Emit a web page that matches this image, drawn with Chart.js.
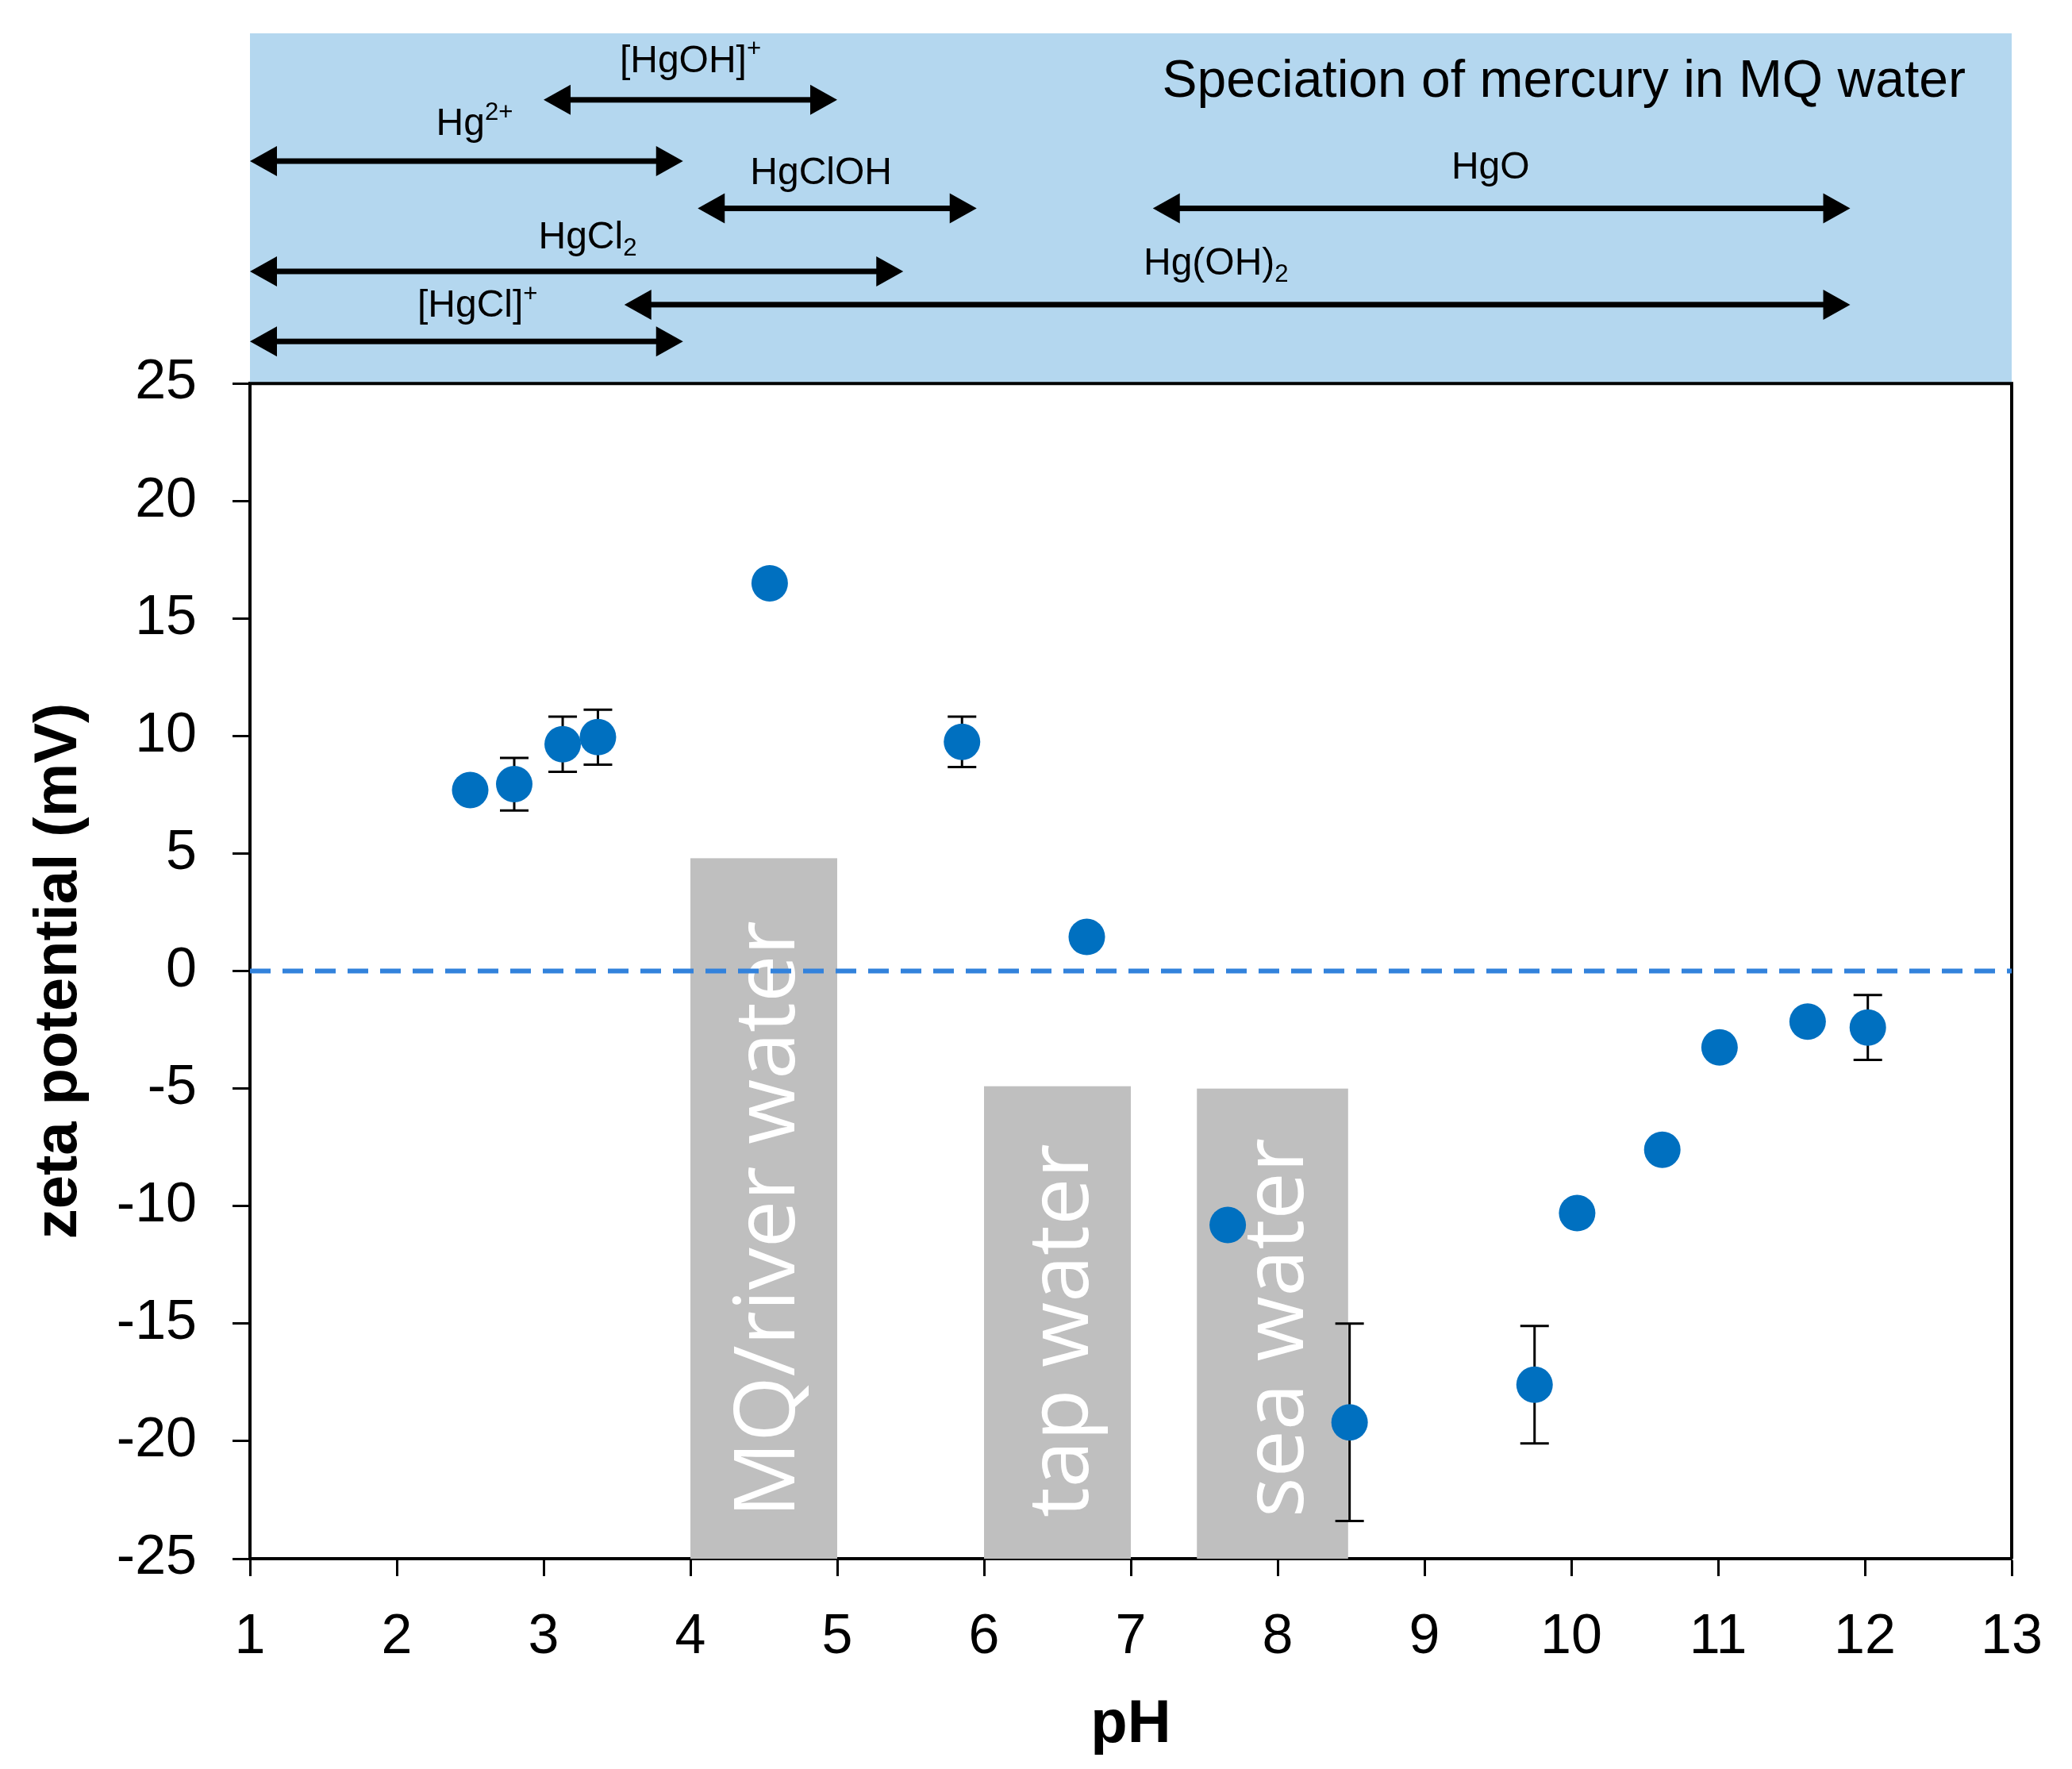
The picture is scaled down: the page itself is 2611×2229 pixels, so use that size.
<!DOCTYPE html>
<html><head><meta charset="utf-8">
<script src="https://cdn.jsdelivr.net/npm/chart.js@4.4.1/dist/chart.umd.min.js"></script>
<style>html,body{margin:0;padding:0;background:#fff;}#wrap{width:2611px;height:2229px;position:relative;}</style>
</head><body><div id="wrap"><canvas id="c"></canvas></div>
<script>
// ---- data ----
const phValues   = [2.50, 2.80, 3.13, 3.37, 4.54, 5.85, 6.70, 7.66, 8.49, 9.75, 10.04, 10.62, 11.01, 11.61, 12.02];
const zetaValues = [7.7, 7.95, 9.65, 9.95, 16.5, 9.75, 1.45, -10.8, -19.2, -17.6, -10.3, -7.6, -3.25, -2.15, -2.4];
const zetaErrors = [0, 1.12, 1.17, 1.17, 0, 1.07, 0, 0.35, 4.2, 2.5, 0, 0, 0, 0, 1.38];

const waterTypes = ['MQ/river water', 'tap water', 'sea water'];
const waterFrom  = [4.0, 6.0, 7.45];
const waterTo    = [5.0, 7.0, 8.48];
const waterTop   = [4.8, -4.9, -5.0];

const speciesNames      = ['[HgOH]^+', 'Hg^2+', 'HgClOH', 'HgO', 'HgCl_2', 'Hg(OH)_2', '[HgCl]^+'];
const speciesFrom       = [3.0, 1.0, 4.05, 7.15, 1.0, 3.55, 1.0];
const speciesTo         = [5.0, 3.95, 5.95, 11.9, 5.45, 11.9, 3.95];
const speciesLevel      = [81, 63.5, 50, 50, 32, 22.5, 12];
const speciesLabelPH    = [4.0, 2.53, 4.89, 9.45, 3.30, 7.58, 2.55];
const speciesLabelLevel = [92, 74, 60, 61.5, 41.5, 34, 22];

const bandTitle = 'Speciation of mercury in MQ water';
const bandTitlePH = 9.95;
const bandTitleLevel = 86;

const zeroLinePH = [1, 13];
const xRange = [1, 13];
const yRange = [-25, 25];

// ---- helpers ----
function drawRich(ctx, str, cx, cy, fs) {
  let base = str, script = '', mode = null;
  const i = str.search(/[\^_]/);
  if (i >= 0) { base = str.slice(0, i); mode = str[i]; script = str.slice(i + 1); }
  const sfs = fs * 0.65;
  ctx.font = fs + 'px "Liberation Sans", Arial, sans-serif';
  const wb = ctx.measureText(base).width;
  ctx.font = sfs + 'px "Liberation Sans", Arial, sans-serif';
  const ws = script ? ctx.measureText(script).width : 0;
  const x0 = cx - (wb + ws) / 2;
  ctx.textAlign = 'left';
  ctx.textBaseline = 'middle';
  ctx.font = fs + 'px "Liberation Sans", Arial, sans-serif';
  ctx.fillText(base, x0, cy);
  if (script) {
    ctx.font = sfs + 'px "Liberation Sans", Arial, sans-serif';
    const dy = mode === '^' ? -fs * 0.3 : fs * 0.28;
    ctx.fillText(script, x0 + wb, cy + dy);
  }
}
function drawArrow(ctx, x1, x2, yy) {
  const hl = 34, hh = 19, lw = 7;
  ctx.fillStyle = '#000';
  ctx.fillRect(x1 + hl - 2, yy - lw / 2, (x2 - x1) - 2 * hl + 4, lw);
  ctx.beginPath();
  ctx.moveTo(x1, yy); ctx.lineTo(x1 + hl, yy - hh); ctx.lineTo(x1 + hl, yy + hh); ctx.closePath(); ctx.fill();
  ctx.beginPath();
  ctx.moveTo(x2, yy); ctx.lineTo(x2 - hl, yy - hh); ctx.lineTo(x2 - hl, yy + hh); ctx.closePath(); ctx.fill();
}

const overlay = {
  id: 'overlay',
  beforeDatasetsDraw(chart) {
    const { ctx, scales: { x, y, band } } = chart;
    ctx.save();
    // speciation band
    ctx.fillStyle = '#b4d7ef';
    ctx.fillRect(x.left, band.top, x.right - x.left, band.bottom - band.top);
    for (let i = 0; i < speciesNames.length; i++) {
      drawArrow(ctx, x.getPixelForValue(speciesFrom[i]), x.getPixelForValue(speciesTo[i]), band.getPixelForValue(speciesLevel[i]));
      ctx.fillStyle = '#000';
      drawRich(ctx, speciesNames[i], x.getPixelForValue(speciesLabelPH[i]), band.getPixelForValue(speciesLabelLevel[i]), 48);
    }
    ctx.fillStyle = '#000';
    ctx.font = '66px "Liberation Sans", Arial, sans-serif';
    ctx.textAlign = 'center'; ctx.textBaseline = 'middle';
    ctx.fillText(bandTitle, x.getPixelForValue(bandTitlePH), band.getPixelForValue(bandTitleLevel));

    // water type boxes
    const fs = 106;
    for (let i = 0; i < waterTypes.length; i++) {
      const x1 = x.getPixelForValue(waterFrom[i]), x2 = x.getPixelForValue(waterTo[i]);
      const yt = y.getPixelForValue(waterTop[i]), yb = y.getPixelForValue(yRange[0]);
      ctx.fillStyle = '#bfbfbf';
      ctx.fillRect(x1, yt, x2 - x1, yb - yt);
      ctx.save();
      ctx.translate((x1 + x2) / 2 + fs * 0.36, yb - 52);
      ctx.rotate(-Math.PI / 2);
      ctx.fillStyle = '#ffffff';
      ctx.font = fs + 'px "Open Sans", "Noto Sans", sans-serif';
      ctx.textAlign = 'left'; ctx.textBaseline = 'alphabetic';
      ctx.fillText(waterTypes[i], 0, 0);
      ctx.restore();
    }

    // plot frame (top and right)
    ctx.strokeStyle = '#000'; ctx.lineWidth = 4;
    ctx.beginPath();
    ctx.moveTo(x.left, y.top); ctx.lineTo(x.right, y.top); ctx.lineTo(x.right, y.bottom);
    ctx.stroke();

    // error bars
    ctx.lineWidth = 3;
    for (let i = 0; i < phValues.length; i++) {
      if (!zetaErrors[i]) continue;
      const px = x.getPixelForValue(phValues[i]);
      const y1 = y.getPixelForValue(zetaValues[i] + zetaErrors[i]);
      const y2 = y.getPixelForValue(zetaValues[i] - zetaErrors[i]);
      ctx.beginPath();
      ctx.moveTo(px, y1); ctx.lineTo(px, y2);
      ctx.moveTo(px - 18, y1); ctx.lineTo(px + 18, y1);
      ctx.moveTo(px - 18, y2); ctx.lineTo(px + 18, y2);
      ctx.stroke();
    }
    ctx.restore();
  }
};

const tickFont = { family: '"Liberation Sans", Arial, sans-serif', size: 70 };

new Chart(document.getElementById('c'), {
  data: {
    datasets: [
      {
        type: 'scatter',
        data: phValues.map((p, i) => ({ x: p, y: zetaValues[i] })),
        yAxisID: 'y',
        pointRadius: 23,
        pointBackgroundColor: '#0070c0',
        pointBorderWidth: 0,
        order: 0
      },
      {
        type: 'line',
        data: zeroLinePH.map(p => ({ x: p, y: 0 })),
        yAxisID: 'y',
        borderColor: '#3282dc',
        borderWidth: 6,
        borderDash: [26, 15],
        pointRadius: 0,
        order: 1
      }
    ]
  },
  options: {
    responsive: true,
    maintainAspectRatio: false,
    devicePixelRatio: 1,
    animation: false,
    layout: { padding: { top: 42, right: 76, left: 0, bottom: 0 } },
    plugins: { legend: { display: false }, tooltip: { enabled: false } },
    scales: {
      x: {
        type: 'linear', min: xRange[0], max: xRange[1],
        ticks: { stepSize: 1, autoSkip: false, font: tickFont, color: '#000', padding: 36, maxRotation: 0 },
        grid: { display: true, drawOnChartArea: false, drawTicks: true, tickLength: 22, tickWidth: 3, color: '#000' },
        border: { display: true, color: '#000', width: 4 },
        title: { display: true, text: 'pH', color: '#000', font: { family: '"Liberation Sans", Arial, sans-serif', size: 76, weight: 'bold' }, padding: { top: 0, bottom: 9 } },
        afterFit(s) { s.height = 265; s.paddingLeft = 0; s.paddingRight = 0; }
      },
      y: {
        type: 'linear', position: 'left', stack: 'v', stackWeight: 3.357,
        min: yRange[0], max: yRange[1],
        ticks: { stepSize: 5, autoSkip: false, font: tickFont, color: '#000', padding: 45 },
        grid: { display: true, drawOnChartArea: false, drawTicks: true, tickLength: 22, tickWidth: 3, color: '#000' },
        border: { display: true, color: '#000', width: 4 },
        title: { display: true, text: 'zeta potential (mV)', color: '#000', font: { family: '"Liberation Sans", Arial, sans-serif', size: 76, weight: 'bold' }, padding: { top: 29, bottom: 0 } },
        afterFit(s) { s.width = 315; s.paddingTop = 0; s.paddingBottom = 0; }
      },
      band: {
        type: 'linear', position: 'left', stack: 'v', stackWeight: 1,
        min: 0, max: 100,
        ticks: { display: false },
        grid: { display: false },
        border: { display: false },
        afterFit(s) { s.width = 315; s.paddingTop = 0; s.paddingBottom = 0; }
      }
    }
  },
  plugins: [overlay]
});
</script>
</body></html>
